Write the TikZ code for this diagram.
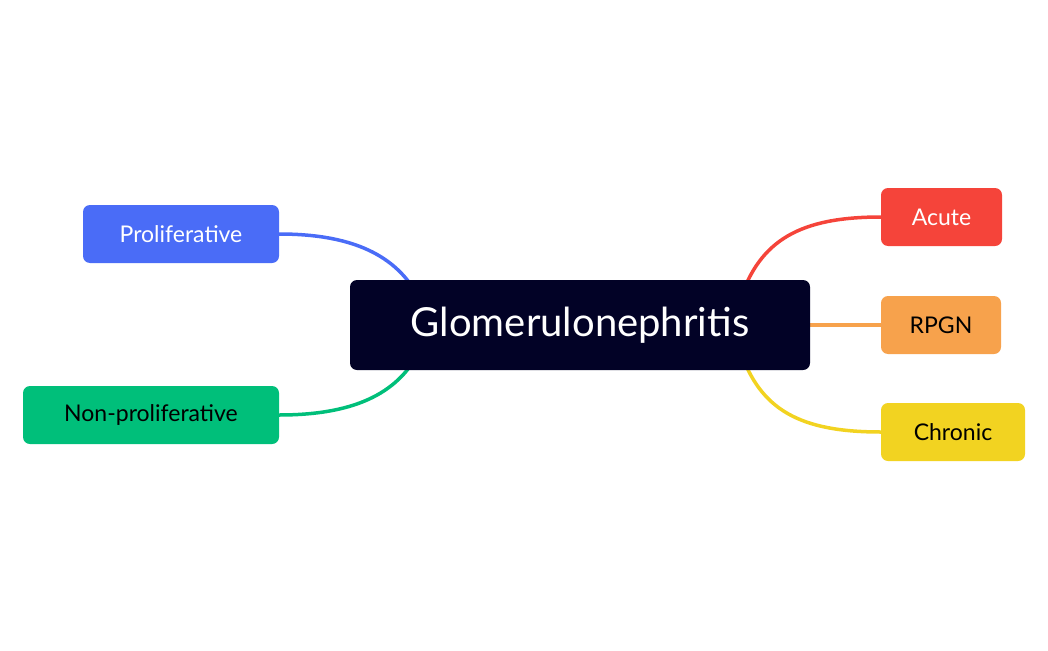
\documentclass[tikz,border=0pt]{standalone}
\usepackage{fontspec}
\setmainfont{Lato}
\begin{document}
\begin{tikzpicture}[x=1pt,y=-1pt,
  box/.style={rounded corners=7pt,inner sep=0pt,font=\fontsize{23}{27}\selectfont},
  link/.style={line width=3.5pt}]
\useasboundingbox (0,0) rectangle (1048,650);
\definecolor{cblue}{HTML}{4A6CF7}\definecolor{cgreen}{HTML}{00BF7A}
\definecolor{cred}{HTML}{F5443A}\definecolor{corange}{HTML}{F7A24C}
\definecolor{cyellow}{HTML}{F2D321}\definecolor{cnavy}{HTML}{020226}
\coordinate (pl) at (279,234); \coordinate (nl) at (279,415);
\coordinate (al) at (881,217); \coordinate (cl) at (881,432);
\draw[link,cblue] (pl) .. controls (360,234) and (400,260) .. (420,300);
\draw[link,cgreen] (nl) .. controls (360,415) and (400,390) .. (420,350);
\draw[link,cred] (al) .. controls (800,217) and (760,240) .. (740,300);
\draw[link,cyellow] (cl) .. controls (800,432) and (760,410) .. (740,350);
\draw[link,corange] (790,325) -- (890,325);
\node[box,fill=cnavy,text=white,minimum width=460,minimum height=90,font=\fontsize{40}{46}\selectfont] (m) at (580,325) {Glomerulonephritis};
\node[box,fill=cblue,text=white,minimum width=196,minimum height=58] (p) at (181,234) {Proliferative};
\node[box,fill=cgreen,text=black,minimum width=256,minimum height=58] (n) at (151,415) {Non-proliferative};
\node[box,fill=cred,text=white,minimum width=121,minimum height=58] (a) at (941.5,217) {Acute};
\node[box,fill=corange,text=black,minimum width=120,minimum height=58] (r) at (941,325) {RPGN};
\node[box,fill=cyellow,text=black,minimum width=144,minimum height=58] (c) at (953,432) {Chronic};
\end{tikzpicture}
\end{document}
